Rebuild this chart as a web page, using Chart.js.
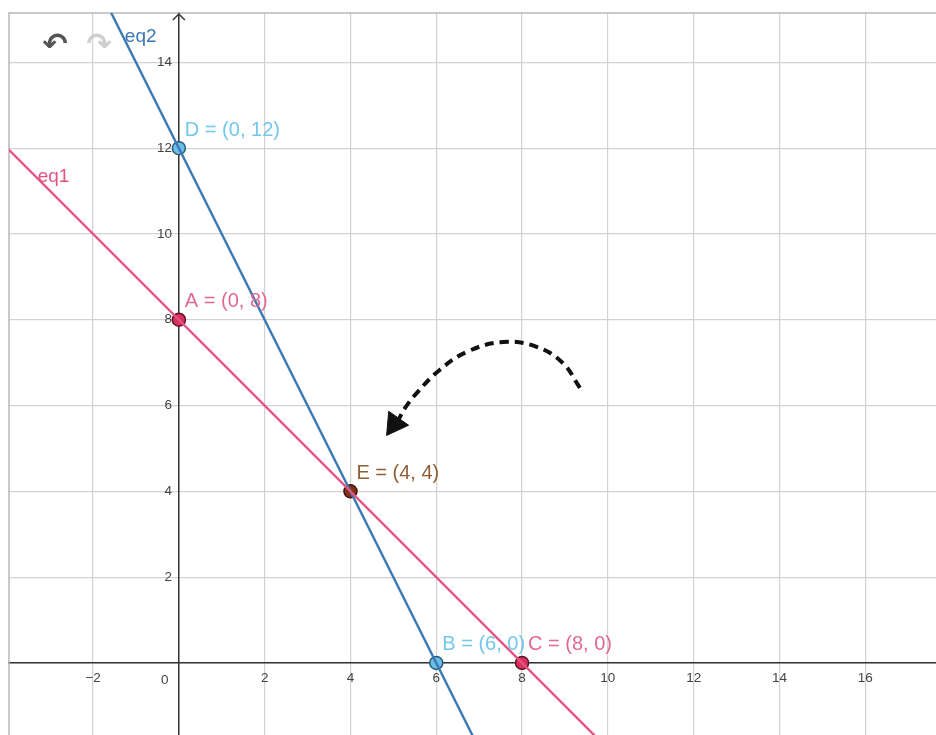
<!DOCTYPE html>
<html><head><meta charset="utf-8">
<script src="https://cdn.jsdelivr.net/npm/chart.js@4/dist/chart.umd.min.js"></script>
<style>html,body{margin:0;padding:0;background:#fff;overflow:hidden}#wrap{width:936px;height:735px}</style>
</head><body><div id="wrap"><canvas id="c" width="936" height="735"></canvas></div>
<script>
// ---- data ----
const xTickValues = [-2, 0, 2, 4, 6, 8, 10, 12, 14, 16];
const yTickValues = [0, 2, 4, 6, 8, 10, 12, 14];
const xRange = [-3.96, 17.65];
const yRange = [-1.68, 15.15];

const eq1X = [-5, 10];
const eq1Y = [13, -2];
const eq2X = [-2, 7];
const eq2Y = [16, -2];

const pointNames = ['A', 'B', 'C', 'D', 'E'];
const pointX = [0, 6, 8, 0, 4];
const pointY = [8, 0, 0, 12, 4];

const arrowX = [9.35, 8.95, 8.34, 7.55, 6.71, 6.08, 5.57, 5.27, 5.13];
const arrowY = [6.41, 6.99, 7.37, 7.48, 7.25, 6.83, 6.32, 5.94, 5.69];
const headX = [5.03];
const headY = [5.57];

const lineNames = ['eq1', 'eq2'];
const lineLabelX = [-3.29, -1.26];
const lineLabelY = [11.33, 14.59];

// ---- styles ----
const pink = '#e4547f';
const blue = '#3b78b4';
const pointFill = { A: '#d9305e', B: '#6bbfe6', C: '#d9305e', D: '#6bbfe6', E: '#86301a' };
const pointStroke = { A: '#5a1428', B: '#2a5a7a', C: '#5a1428', D: '#2a5a7a', E: '#3a150a' };
const labelColor = { A: '#e06a93', B: '#72c7ec', C: '#e06a93', D: '#72c7ec', E: '#8f5e34' };
const FONT = '"Liberation Sans", Arial, sans-serif';

const minus = v => (v < 0 ? '\u2212' + Math.abs(v) : String(v));
const noPad = s => { s.paddingLeft = 0; s.paddingRight = 0; s.paddingTop = 0; s.paddingBottom = 0; };

const decor = {
  id: 'decor',
  beforeDatasetsDraw(chart) {
    const { ctx, chartArea: a, scales: { x, y } } = chart;
    ctx.save();
    // view border (top & left)
    ctx.strokeStyle = '#b8b8b8';
    ctx.lineWidth = 1.5;
    ctx.beginPath();
    ctx.moveTo(a.left, a.bottom);
    ctx.lineTo(a.left, a.top);
    ctx.lineTo(a.right, a.top);
    ctx.stroke();
    // y axis arrow head
    const ax = x.getPixelForValue(0);
    ctx.strokeStyle = '#333';
    ctx.lineWidth = 1.5;
    ctx.beginPath();
    ctx.moveTo(ax - 6, a.top + 7);
    ctx.lineTo(ax, a.top + 1);
    ctx.lineTo(ax + 6, a.top + 7);
    ctx.stroke();
    // origin label
    ctx.fillStyle = '#444';
    ctx.font = '13.5px ' + FONT;
    ctx.textAlign = 'center';
    ctx.textBaseline = 'middle';
    ctx.fillText('0', ax - 14, y.getPixelForValue(0) + 17);
    // undo / redo icons
    ctx.font = 'bold 30px "DejaVu Sans"';
    ctx.fillStyle = '#555';
    ctx.fillText('\u21B6', 55, 46);
    ctx.fillStyle = '#cfcfcf';
    ctx.fillText('\u21B7', 99, 46);
    ctx.restore();
  },
  afterDatasetsDraw(chart) {
    const { ctx, scales: { x, y } } = chart;
    ctx.save();
    ctx.textBaseline = 'middle';
    ctx.textAlign = 'left';
    // line labels
    ctx.font = '19px ' + FONT;
    lineNames.forEach((n, i) => {
      ctx.fillStyle = i === 0 ? pink : blue;
      ctx.fillText(n, x.getPixelForValue(lineLabelX[i]), y.getPixelForValue(lineLabelY[i]));
    });
    // point labels
    ctx.font = '20px ' + FONT;
    const meta = chart.getDatasetMeta(4);
    meta.data.forEach((el, i) => {
      const n = pointNames[i];
      ctx.fillStyle = labelColor[n];
      ctx.fillText(`${n} = (${pointX[i]}, ${pointY[i]})`, el.x + 6, el.y - 18);
    });
    ctx.restore();
  }
};

const toXY = (xs, ys) => xs.map((v, i) => ({ x: v, y: ys[i] }));

new Chart(document.getElementById('c'), {
  type: 'scatter',
  data: {
    datasets: [
      { label: 'eq1', data: toXY(eq1X, eq1Y), showLine: true, borderColor: pink, borderWidth: 2.4, pointRadius: 0 },
      { label: 'eq2', data: toXY(eq2X, eq2Y), showLine: true, borderColor: blue, borderWidth: 2.4, pointRadius: 0 },
      { label: 'arrow', data: toXY(arrowX, arrowY), showLine: true, borderColor: '#111', borderWidth: 4,
        borderDash: [9, 6], tension: 0.4, pointRadius: 0 },
      { label: 'head', data: toXY(headX, headY), pointStyle: 'triangle', rotation: 215, pointRadius: 14,
        backgroundColor: '#111', borderColor: '#111', borderWidth: 1 },
      { label: 'points', data: toXY(pointX, pointY), pointRadius: 6.5, borderWidth: 1.5,
        pointBackgroundColor: pointNames.map(n => pointFill[n]),
        pointBorderColor: pointNames.map(n => pointStroke[n]) }
    ]
  },
  options: {
    responsive: false,
    animation: false,
    layout: { autoPadding: false, padding: { top: 13, left: 9, right: 0, bottom: 0 } },
    plugins: { legend: { display: false }, tooltip: { enabled: false } },
    scales: {
      x: {
        type: 'linear', min: xRange[0], max: xRange[1], position: { y: 0 },
        afterBuildTicks: s => { s.ticks = xTickValues.map(v => ({ value: v })); },
        afterFit: s => { s.height = 0; noPad(s); },
        grid: { color: '#d2d2d2', lineWidth: 1.2, drawTicks: false },
        border: { color: '#333', width: 1.5 },
        ticks: { padding: 7, color: '#444', font: { family: FONT, size: 13.5 },
          callback: v => (v === 0 ? '' : minus(v)) }
      },
      y: {
        type: 'linear', min: yRange[0], max: yRange[1], position: { x: 0 },
        afterBuildTicks: s => { s.ticks = yTickValues.map(v => ({ value: v })); },
        afterFit: s => { s.width = 0; noPad(s); },
        grid: { color: '#d2d2d2', lineWidth: 1.2, drawTicks: false },
        border: { color: '#333', width: 1.5 },
        ticks: { padding: 7, color: '#444', font: { family: FONT, size: 13.5 },
          callback: v => (v === 0 ? '' : minus(v) + '\u2002') }
      }
    }
  },
  plugins: [decor]
});
</script>
</body></html>
